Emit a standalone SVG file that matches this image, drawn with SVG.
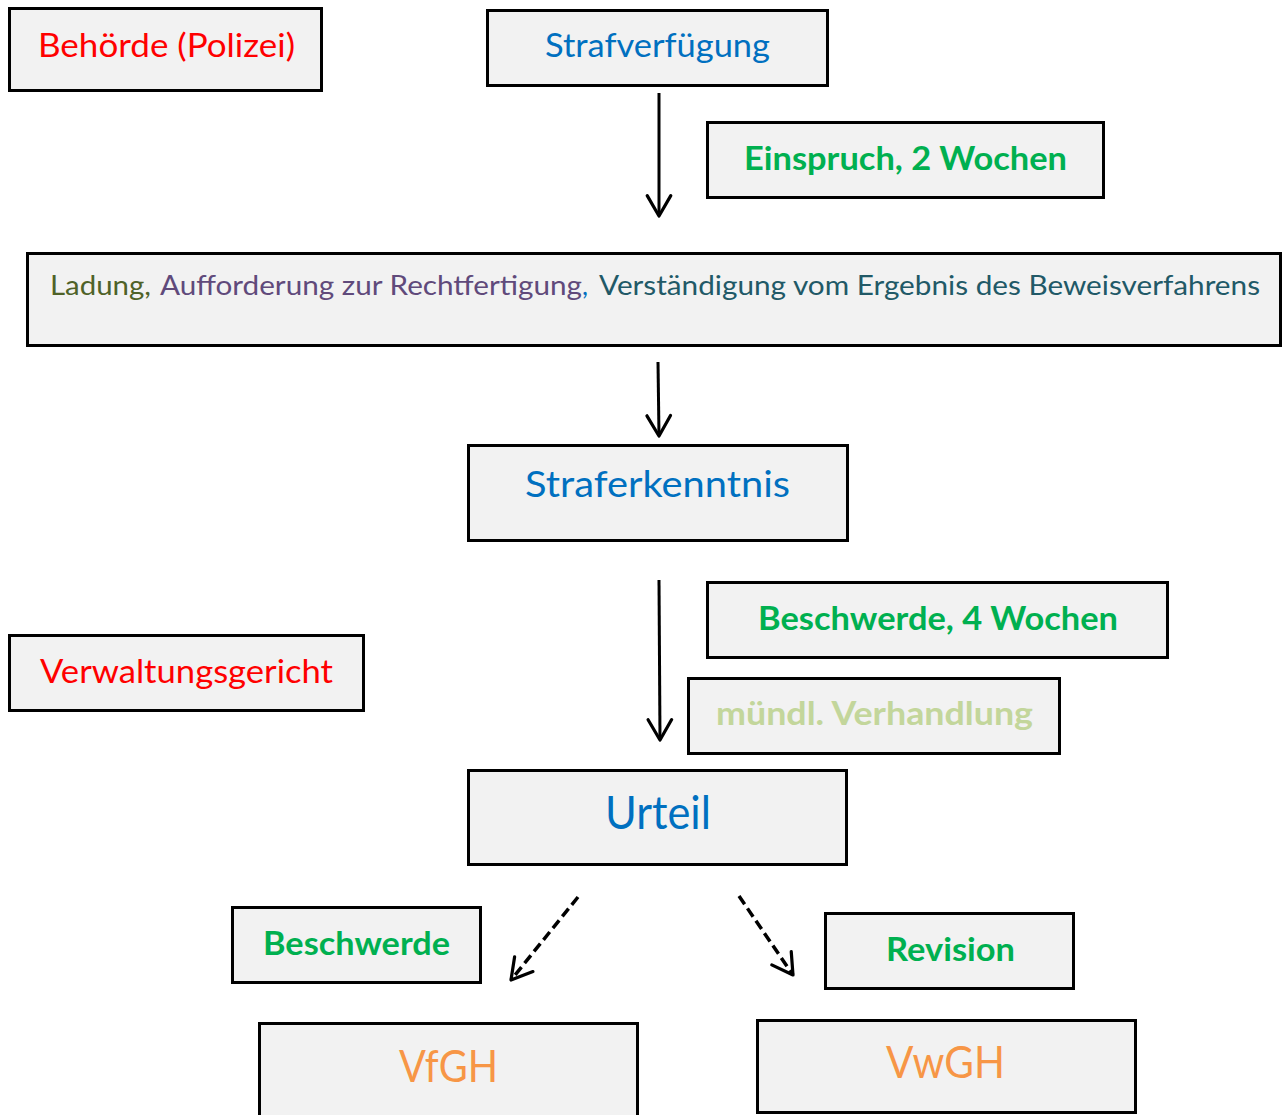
<svg xmlns="http://www.w3.org/2000/svg" width="1282" height="1115" viewBox="0 0 1282 1115">
<style>
.box{fill:#f2f2f2;stroke:#000;stroke-width:3}
.t{font-family:Lato,"Open Sans","Noto Sans",sans-serif;text-anchor:start}
.b{font-weight:bold}
.red{fill:#ff0000}.blue{fill:#0070c0}.green{fill:#00b050}.lgreen{fill:#c3d69b}.orange{fill:#f79646}
.conn{stroke:#000;stroke-width:3;fill:none}
.dash{stroke-dasharray:10 5;stroke-width:3.5}
</style>
<defs>
<marker id="arr" markerUnits="userSpaceOnUse" markerWidth="30" markerHeight="30" refX="0" refY="0" viewBox="-22 -14 26 28" orient="auto">
<path d="M-19,-11 L0,0 L-19,11" fill="none" stroke="#000" stroke-width="3" stroke-linecap="round" stroke-linejoin="round"/>
</marker>
</defs>
<g id="connectors">
<line class="conn" x1="659" y1="93" x2="659" y2="216" marker-end="url(#arr)"/>
<line class="conn" x1="658" y1="362" x2="659" y2="436" marker-end="url(#arr)"/>
<line class="conn" x1="659" y1="580" x2="660" y2="740" marker-end="url(#arr)"/>
<line class="conn dash" x1="578" y1="897" x2="511" y2="980" marker-end="url(#arr)"/>
<line class="conn dash" x1="739" y1="896" x2="793" y2="975" marker-end="url(#arr)"/>
</g>
<g id="behoerde">
<rect class="box" x="9.5" y="8.5" width="312" height="82"/>
<text class="t red" x="38" y="57" font-size="33" textLength="257" lengthAdjust="spacingAndGlyphs">Behörde (Polizei)</text>
</g>
<g id="strafverfuegung">
<rect class="box" x="487.5" y="10.5" width="340" height="75"/>
<text class="t blue" x="545" y="57" font-size="33" textLength="225" lengthAdjust="spacingAndGlyphs">Strafverfügung</text>
</g>
<g id="einspruch">
<rect class="box" x="707.5" y="122.5" width="396" height="75"/>
<text class="t b green" x="744" y="170" font-size="33" textLength="323" lengthAdjust="spacingAndGlyphs">Einspruch, 2 Wochen</text>
</g>
<g id="ladung">
<rect class="box" x="27.5" y="253.5" width="1253" height="92"/>
<text class="t" y="295" font-size="26">
<tspan x="50" fill="#4f6228" textLength="101" lengthAdjust="spacingAndGlyphs">Ladung,</tspan>
<tspan x="160" fill="#604a7b" textLength="422" lengthAdjust="spacingAndGlyphs">Aufforderung zur Rechtfertigung</tspan>
<tspan x="582" fill="#0070c0" textLength="6" lengthAdjust="spacingAndGlyphs">,</tspan>
<tspan x="599" fill="#215967" textLength="661" lengthAdjust="spacingAndGlyphs">Verständigung vom Ergebnis des Beweisverfahrens</tspan>
</text>
</g>
<g id="straferkenntnis">
<rect class="box" x="468.5" y="445.5" width="379" height="95"/>
<text class="t blue" x="525" y="497" font-size="37" textLength="265" lengthAdjust="spacingAndGlyphs">Straferkenntnis</text>
</g>
<g id="beschwerde4">
<rect class="box" x="707.5" y="582.5" width="460" height="75"/>
<text class="t b green" x="758" y="630" font-size="33" textLength="360" lengthAdjust="spacingAndGlyphs">Beschwerde, 4 Wochen</text>
</g>
<g id="verwaltungsgericht">
<rect class="box" x="9.5" y="635.5" width="354" height="75"/>
<text class="t red" x="40" y="683" font-size="33" textLength="293" lengthAdjust="spacingAndGlyphs">Verwaltungsgericht</text>
</g>
<g id="muendl">
<rect class="box" x="688.5" y="678.5" width="371" height="75"/>
<text class="t b lgreen" x="716" y="725" font-size="33" textLength="317" lengthAdjust="spacingAndGlyphs">mündl. Verhandlung</text>
</g>
<g id="urteil">
<rect class="box" x="468.5" y="770.5" width="378" height="94"/>
<text class="t blue" x="605" y="829" font-size="46" textLength="106" lengthAdjust="spacingAndGlyphs">Urteil</text>
</g>
<g id="beschwerde">
<rect class="box" x="232.5" y="907.5" width="248" height="75"/>
<text class="t b green" x="263" y="955" font-size="33" textLength="187" lengthAdjust="spacingAndGlyphs">Beschwerde</text>
</g>
<g id="revision">
<rect class="box" x="825.5" y="913.5" width="248" height="75"/>
<text class="t b green" x="886" y="961" font-size="33" textLength="129" lengthAdjust="spacingAndGlyphs">Revision</text>
</g>
<g id="vfgh">
<rect class="box" x="259.5" y="1023.5" width="378" height="100"/>
<text class="t orange" x="399" y="1082" font-size="44" textLength="99" lengthAdjust="spacingAndGlyphs">VfGH</text>
</g>
<g id="vwgh">
<rect class="box" x="757.5" y="1020.5" width="378" height="92"/>
<text class="t orange" x="886" y="1078" font-size="44" textLength="119" lengthAdjust="spacingAndGlyphs">VwGH</text>
</g>
</svg>
